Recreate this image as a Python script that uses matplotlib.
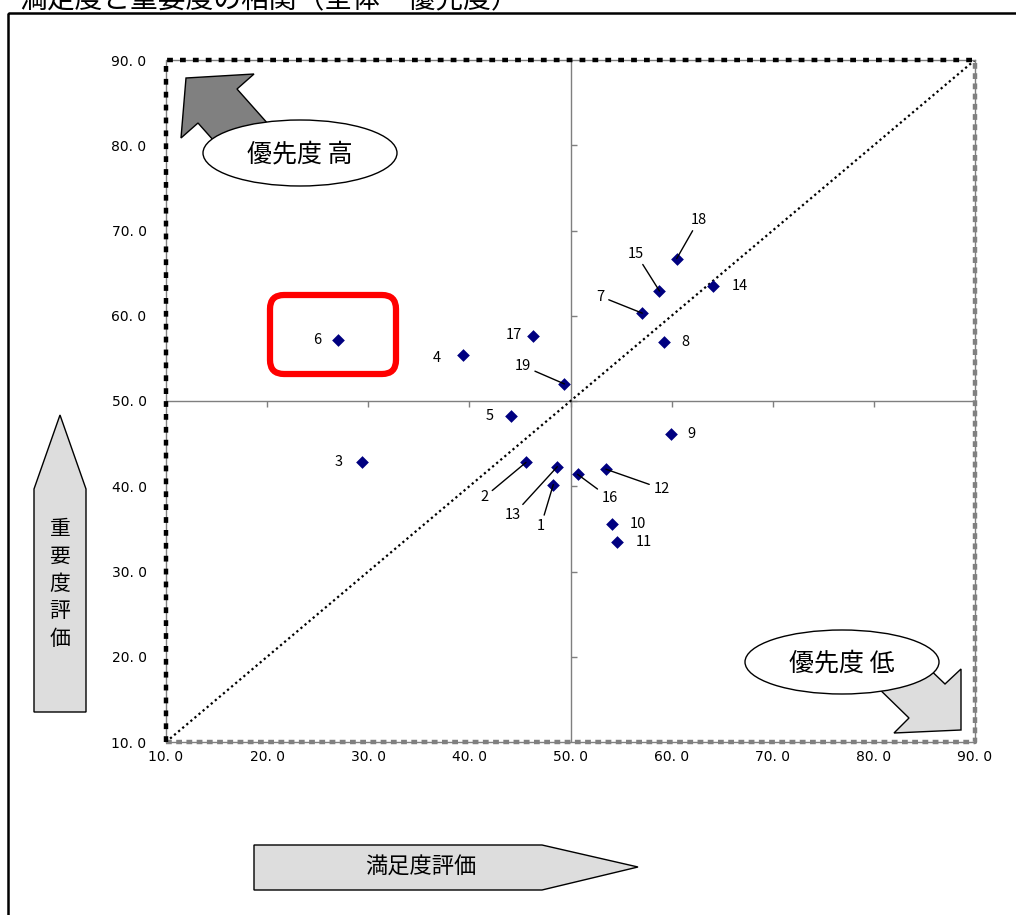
import matplotlib
matplotlib.use('Agg')
import matplotlib.pyplot as plt
from matplotlib.patches import Polygon, Ellipse, FancyBboxPatch, Rectangle

plt.rcParams['font.family'] = ['Noto Sans CJK JP', 'DejaVu Sans']

# data: 満足度 (x) and 重要度 (y) for items 1..19
ids = [str(i) for i in range(1, 20)]
satisfaction = [48.3, 45.6, 29.4, 39.4, 44.1, 27.0, 57.1, 59.2, 59.9, 54.1,
                54.6, 53.5, 48.7, 64.1, 58.8, 50.7, 46.3, 60.5, 49.4]
importance = [40.2, 42.8, 42.8, 55.4, 48.2, 57.2, 60.3, 56.9, 46.1, 35.6,
              33.5, 42.0, 42.3, 63.5, 62.9, 41.4, 57.6, 66.7, 52.0]
ticks = [10, 20, 30, 40, 50, 60, 70, 80, 90]
tick_labels = ['10. 0', '20. 0', '30. 0', '40. 0', '50. 0', '60. 0', '70. 0', '80. 0', '90. 0']

title = '満足度と重要度の相関（全体・優先度）'
x_title = '満足度評価'
y_title = '重要度評価'
high_label = '優先度 高'
low_label = '優先度 低'

# label offsets in points and whether a leader line is drawn
offsets = [(-9, -30), (-30, -25), (-17, 0), (-19, -2), (-15, 0), (-15, 0), (-30, 12),
           (16, 0), (15, 0), (19, 0), (19, 0), (40, -14), (-32, -35), (19, 0),
           (-17, 27), (23, -17), (-14, 1), (16, 28), (-30, 13)]
leaders = {'1', '2', '7', '12', '13', '15', '16', '18', '19'}

W, H = 1016, 915
fig = plt.figure(figsize=(W / 100, H / 100), dpi=100)

ax = fig.add_axes([166 / W, 1 - 742 / H, (975 - 166) / W, (742 - 60) / H])
ax.set_xlim(10, 90)
ax.set_ylim(10, 90)
for s in ax.spines.values():
    s.set_visible(False)

# quadrant lines with small tick marks, and the diagonal
ax.axvline(50, color='#7f7f7f', lw=1, zorder=1)
ax.axhline(50, color='#7f7f7f', lw=1, zorder=1)
inner = ticks[1:-1]
ax.plot(inner, [50] * len(inner), ls='none', marker=3, ms=4, color='#7f7f7f', mew=1, zorder=1)
ax.plot([50] * len(inner), inner, ls='none', marker=1, ms=4, color='#7f7f7f', mew=1, zorder=1)
ax.plot([10, 90], [10, 90], color='black', lw=1.6, ls=(0, (1, 1.4)), zorder=2)

# plot frame: black dotted left/top, grey dashed right/bottom
ax.plot([10, 10, 90], [10, 90, 90], color='#808080', lw=1, clip_on=False, zorder=3)
ax.plot([10, 10, 90], [10, 90, 90], color='black', lw=3.2, ls=(0, (1.3, 1.6)),
        clip_on=False, zorder=4, solid_capstyle='butt', dash_capstyle='butt')
ax.plot([10, 90, 90], [10, 10, 90], color='#808080', lw=1, clip_on=False, zorder=3)
ax.plot([10, 90, 90], [10, 10, 90], color='#808080', lw=3.2, ls=(0, (1.3, 1.0)),
        clip_on=False, zorder=3, dash_capstyle='butt')

ax.scatter(satisfaction, importance, marker='D', s=42, color='#000080', zorder=5, linewidths=0)

for lab, x, y, off in zip(ids, satisfaction, importance, offsets):
    props = dict(arrowstyle='-', color='black', lw=1, shrinkA=1, shrinkB=0) if lab in leaders else None
    ax.annotate(lab, (x, y), xytext=off, textcoords='offset points', ha='center', va='center',
                fontsize=10.5, arrowprops=props, zorder=6)

ax.set_xticks(ticks)
ax.set_xticklabels(tick_labels, family='DejaVu Sans')
ax.set_yticks(ticks)
ax.set_yticklabels(tick_labels, family='DejaVu Sans')
ax.tick_params(length=0, labelsize=10)
ax.tick_params(axis='y', pad=14)
ax.tick_params(axis='x', pad=6)

# overlay for shapes, in pixel coordinates
ov = fig.add_axes([0, 0, 1, 1], zorder=5)
ov.set_xlim(0, W)
ov.set_ylim(H, 0)
ov.axis('off')
ov.patch.set_alpha(0)

ov.add_patch(Rectangle((8, 13), W, H, fill=False, ec='black', lw=1.8))
ov.text(20, 0, title, fontsize=20, ha='left', va='center')

# up-left arrow
ov.add_patch(Polygon([(186, 78), (254, 74), (237, 89), (277, 134), (238, 168),
                      (198, 123), (181, 138)], closed=True, fc='#808080', ec='black', lw=1))
ov.add_patch(Ellipse((300, 153), 194, 66, fc='white', ec='black', lw=1))
ov.text(300, 154, high_label, fontsize=18, ha='center', va='center')

# down-right arrow
ov.add_patch(Polygon([(961, 730), (894, 733), (909, 718), (870, 680), (920, 660),
                      (945, 684), (961, 669)], closed=True, fc='#dddddd', ec='black', lw=1))
ov.add_patch(Ellipse((842, 662), 194, 64, fc='white', ec='black', lw=1))
ov.text(842, 663, low_label, fontsize=18, ha='center', va='center')

# axis title arrows
ov.add_patch(Polygon([(60, 415), (86, 489), (86, 712), (34, 712), (34, 489)],
                     closed=True, fc='#dddddd', ec='black', lw=1))
ov.text(60, 584, '\n'.join(y_title), fontsize=15, ha='center', va='center', linespacing=1.32)

ov.add_patch(Polygon([(254, 845), (542, 845), (638, 867), (542, 890), (254, 890)],
                     closed=True, fc='#dddddd', ec='black', lw=1))
ov.text(421, 867, x_title, fontsize=16, ha='center', va='center')

# highlight box around item 6
ov.add_patch(FancyBboxPatch((270, 295), 126, 79, boxstyle='round,pad=0,rounding_size=14',
                            fc='none', ec='#ff0000', lw=4.5))

fig.savefig('out.png', dpi=100)
